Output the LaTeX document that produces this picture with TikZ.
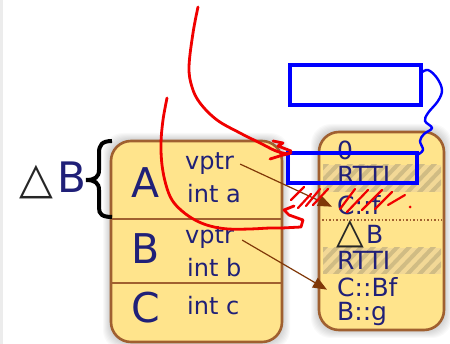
\documentclass[tikz,border=0pt]{standalone}
\usepackage{fontspec}
\setmainfont{DejaVu Sans}
\usetikzlibrary{arrows.meta}
\definecolor{navy}{RGB}{32,32,120}
\definecolor{boxfill}{RGB}{255,228,140}
\definecolor{boxline}{RGB}{160,96,48}
\definecolor{bandfill}{RGB}{242,216,150}
\definecolor{stripe}{RGB}{208,188,132}
\definecolor{ptrcol}{RGB}{128,56,8}
\definecolor{scrib}{RGB}{240,0,0}
\definecolor{leftstrip}{RGB}{236,236,236}
\begin{document}
\begin{tikzpicture}[x=1pt,y=-1pt,
  txt/.style={anchor=base west, inner sep=0pt, text=navy, font=\fontsize{24}{28}\selectfont},
  bigtxt/.style={anchor=base west, inner sep=0pt, text=navy, font=\fontsize{41}{48}\selectfont},
  rtxt/.style={anchor=base west, inner sep=0pt, text=navy, font=\fontsize{25}{30}\selectfont},
  trisym/.style={anchor=base west, inner sep=0pt, text=black!85, text depth=0pt},
  membox/.style={fill=boxfill, draw=boxline, line width=2.6pt, rounded corners=20pt},
  sep/.style={draw=boxline, line width=2.4pt},
  ptr/.style={draw=ptrcol, line width=1.2pt, -{Triangle[length=14pt,width=11pt]}},
  bluemark/.style={draw=blue, line width=3.2pt},
  redmark/.style={draw=scrib, line width=2.8pt, line cap=round, line join=round},
  redhatch/.style={draw=scrib, line width=2.2pt, line cap=round}]
\useasboundingbox (0,0) rectangle (450,344);
\fill[white] (0,0) rectangle (450,344);
\fill[leftstrip] (0,0) rectangle (3,344);

% soft shadows
\foreach \i in {1,...,8}{
  \fill[black, opacity=0.022, rounded corners=20pt] (111-\i,141-\i) rectangle (282+\i,342+\i);
  \fill[black, opacity=0.022, rounded corners=20pt] (319-\i,132-\i) rectangle (444+\i,330+\i);
}

% left object box
\path[membox] (111,141) rectangle (282,342);
\draw[sep] (111,219) -- (282,219);
\draw[sep] (111,283) -- (282,283);

% right vtable box
\path[membox] (319,132) rectangle (444,330);
\begin{scope}
  \clip (323,165) rectangle (441,192);
  \fill[bandfill] (323,165) rectangle (441,192);
  \foreach \s in {0,12,...,180} \draw[stripe, line width=4pt] (280+\s,200) -- (320+\s,158);
\end{scope}
\begin{scope}
  \clip (323,248) rectangle (441,274);
  \fill[bandfill] (323,248) rectangle (441,274);
  \foreach \s in {0,12,...,180} \draw[stripe, line width=4pt] (280+\s,282) -- (320+\s,240);
\end{scope}
\draw[boxline, line width=1.5pt, dash pattern=on 1.5pt off 2pt] (322,220) -- (442,220);

% left label and brace
\node[trisym, font=\fontsize{44}{50}\selectfont] (ltri) at (19,194) {△};
\node[bigtxt, font=\fontsize{42}{50}\selectfont] (lB) at (57,193) {B};
\draw[black, line width=4pt] (112,141) .. controls (102,141) and (99,145) .. (99,153) -- (99,170)
   .. controls (99,177) and (95,180) .. (86,180) .. controls (95,180) and (99,183) .. (99,190)
   -- (99,208) .. controls (99,214) and (102,217) .. (112,217);

% left box texts
\node[bigtxt] (tA) at (131,198) {A};
\node[bigtxt] (tB) at (131,264) {B};
\node[bigtxt] (tC) at (131,323) {C};
\node[txt] (vp1) at (185,170) {vptr};
\node[txt] (ia) at (187,203) {int a};
\node[txt] (vp2) at (185,244) {vptr};
\node[txt] (ib) at (187,277) {int b};
\node[txt] (ic) at (187,315) {int c};

% right box texts
\node[rtxt] (z0) at (337,160) {0};
\node[rtxt] (rt1) at (337,185) {RTTI};
\node[rtxt] (cf) at (337,215) {C::f};
\node[trisym, font=\fontsize{36}{42}\selectfont, text height=21pt] (rtri) at (336,244) {△};
\node[rtxt] (rB) at (366,244) {B};
\node[rtxt] (rt2) at (337,270) {RTTI};
\node[rtxt] (cbf) at (337,297) {C::Bf};
\node[rtxt] (bg) at (337,321) {B::g};

% pointers
\draw[ptr] ([xshift=6pt]vp1.east) -- ([xshift=-5pt,yshift=-1pt]cf.west);
\draw[ptr] ([xshift=8pt,yshift=-2pt]vp2.east) -- ([xshift=-10pt,yshift=-2pt]cbf.west);

% blue annotations
\draw[bluemark] (290,65) rectangle (421,105);
\draw[bluemark] (288,153) rectangle (417,183);
\draw[blue, line width=2.4pt, line join=round] plot[smooth, tension=0.6] coordinates {(421,73) (428,70) (437,78) (442,90) (438,101) (428,113) (425,121) (432,128) (424,134) (420,141) (423,150) (417,155)};

% red scribbles
\draw[redmark] plot[smooth, tension=0.6] coordinates {(198,7) (193,33) (189,67) (192,87) (200,103) (217,120) (240,133) (260,143) (276,151) (288,154)};
\draw[redmark] (273,141) -- (283,143) -- (278,146) -- (291,151);
\draw[redmark] (270,159) -- (283,155) -- (291,153);
\draw[redmark] plot[smooth, tension=0.6] coordinates {(167,98) (163,120) (161,143) (162,165) (166,185) (172,200) (182,211) (195,220) (210,226) (228,229) (250,229) (270,228) (282,228)};
\draw[redmark] (282,228) -- (301,227) -- (303,220) -- (289,215) -- (284,210) -- (294,206);
\draw[redhatch] (291,200) -- (304,187);
\draw[redhatch] (298,208) -- (311,194);
\draw[redhatch] (306,206) -- (320,189);
\draw[redhatch] (313,205) -- (328,189);
\draw[redhatch] (340,209) -- (355,189);
\draw[redhatch] (347,212) -- (368,190);
\draw[redhatch] (362,210) -- (382,190);
\draw[redhatch] (375,209) -- (392,192);
\draw[redhatch] (388,205) -- (405,195);
\fill[scrib] (410,207) circle (1.5pt);
\end{tikzpicture}
\end{document}
